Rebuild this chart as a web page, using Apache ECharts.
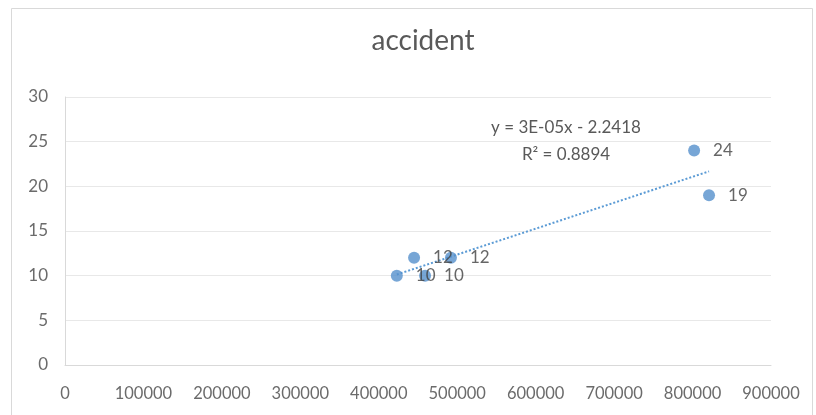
<!DOCTYPE html>
<html><head><meta charset="utf-8">
<script src="https://cdn.jsdelivr.net/npm/echarts@6/dist/echarts.min.js"></script>
<style>html,body{margin:0;padding:0;background:#fff}#c{width:816px;height:415px}</style>
</head><body><div id="c"></div>
<script>
const title = 'accident';
const xValues = [423000, 445000, 459000, 492000, 802000, 821000];
const yValues = [10, 12, 10, 12, 24, 19];
const xTicks = [0, 100000, 200000, 300000, 400000, 500000, 600000, 700000, 800000, 900000];
const yTicks = [0, 5, 10, 15, 20, 25, 30];
const equationText = 'y = 3E-05x - 2.2418';
const r2Text = 'R² = 0.8894';

// least squares trendline from data
const n = xValues.length;
const mx = xValues.reduce((a,b)=>a+b,0)/n;
const my = yValues.reduce((a,b)=>a+b,0)/n;
let sxy=0,sxx=0;
for(let i=0;i<n;i++){sxy+=(xValues[i]-mx)*(yValues[i]-my);sxx+=(xValues[i]-mx)**2;}
const slope = sxy/sxx, intercept = my - slope*mx;
const xmin = Math.min(...xValues), xmax = Math.max(...xValues);
const trend = [[xmin, slope*xmin+intercept],[xmax, slope*xmax+intercept]];

const chart = echarts.init(document.getElementById('c'));
const font = 'Lato, "Open Sans", sans-serif';
chart.setOption({
  animation:false,
  backgroundColor:'#fff',
  title:{text:title,left:418,textAlign:'center',top:22,textStyle:{fontFamily:font,fontSize:28,fontWeight:'normal',color:'#595959'}},
  grid:{left:65,right:45,top:97,bottom:50},
  xAxis:{type:'value',min:xTicks[0],max:xTicks[xTicks.length-1],interval:100000,
    axisLine:{show:true,lineStyle:{color:'#d9d9d9'}},axisTick:{show:false},
    splitLine:{show:false},
    axisLabel:{margin:20,fontFamily:font,fontSize:16.5,color:'#6b6b6b',formatter:v=>String(v)}},
  yAxis:{type:'value',min:yTicks[0],max:yTicks[yTicks.length-1],interval:5,
    axisLine:{show:true,lineStyle:{color:'#d9d9d9'}},axisTick:{show:false},
    splitLine:{show:true,lineStyle:{color:'#e8e8e8'}},
    axisLabel:{margin:17,fontFamily:font,fontSize:17,color:'#6b6b6b'}},
  graphic:[
    {type:'rect',shape:{x:11.5,y:8.5,width:801,height:420},style:{fill:'none',stroke:'#d9d9d9',lineWidth:1},silent:true},
    {type:'text',x:566,y:114,style:{text:equationText+'\n'+r2Text,align:'center',verticalAlign:'top',fontFamily:font,fontSize:17,lineHeight:27,fill:'#595959'}}
  ],
  series:[
    {type:'line',data:trend,symbol:'none',lineStyle:{color:'#5b9bd5',width:2,type:[2,2]},z:1,silent:true},
    {type:'scatter',data:xValues.map((x,i)=>[x,yValues[i]]),symbolSize:12,itemStyle:{color:'#5590cc'},z:3,
     label:{show:true,position:'right',distance:13,formatter:p=>p.value[1],fontFamily:font,fontSize:17,color:'#404040'}}
  ]
});
</script></body></html>
